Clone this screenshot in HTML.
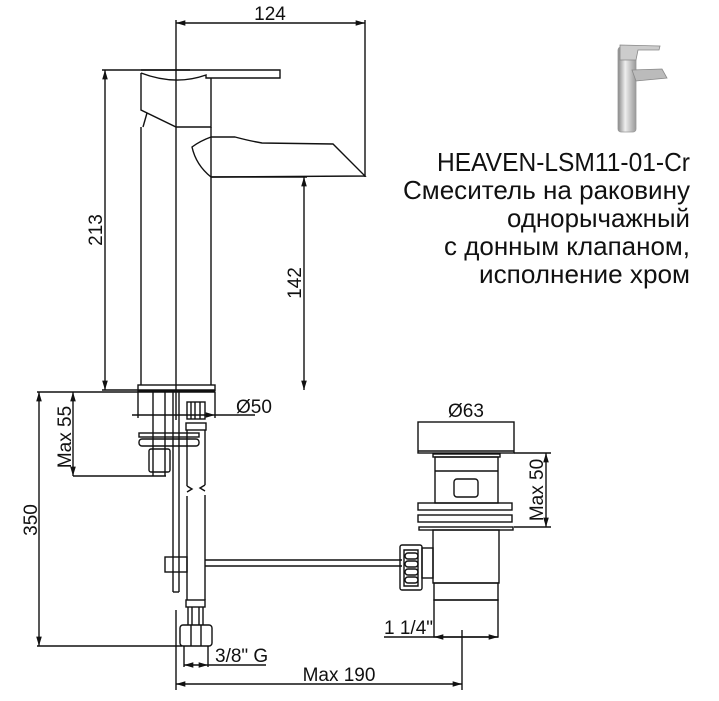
<!DOCTYPE html>
<html><head><meta charset="utf-8"><style>
html,body{margin:0;padding:0;background:#fff;}
svg{display:block;}
text{font-family:"Liberation Sans",sans-serif;fill:#111;}
</style></head><body>
<svg width="719" height="701" viewBox="0 0 719 701" xmlns="http://www.w3.org/2000/svg">
<defs>
<marker id="a" viewBox="0 0 10 6" refX="10" refY="3" markerWidth="7" markerHeight="4" orient="auto-start-reverse"><path d="M0,0 L10,3 L0,6 z" fill="#111"/></marker>
<linearGradient id="g" x1="0" x2="1"><stop offset="0" stop-color="#888"/><stop offset="0.4" stop-color="#eee"/><stop offset="1" stop-color="#999"/></linearGradient>
</defs>
<g stroke="#111" stroke-width="1.4" fill="none">
<line x1="176" y1="23" x2="365" y2="23" marker-start="url(#a)" marker-end="url(#a)"/>
<line x1="176" y1="20" x2="176" y2="420"/>
<line x1="365" y1="20" x2="365" y2="177"/>
<line x1="102" y1="70" x2="190" y2="70"/>
<line x1="105" y1="70" x2="105" y2="390" marker-start="url(#a)" marker-end="url(#a)"/>
<line x1="102" y1="390" x2="215" y2="390"/>
<path d="M141,70 L280,70 L280,78 L206,78 L206,75 Q175,86 141,73"/>
<path d="M141,73 L141,110 L176,127 L211,127 L211,78"/>
<path d="M147,113 L143,127"/>
<line x1="141" y1="127" x2="141" y2="385"/>
<line x1="211" y1="127" x2="211" y2="385"/>
<rect x="138" y="385" width="77" height="6"/>
<path d="M211,137 L235,137 Q250,141 262,143 L333,144 L365,176 L211,177 Q196,165 192,147 Q200,141 211,137"/>
<line x1="211" y1="177" x2="307" y2="177"/>
<line x1="304" y1="177" x2="304" y2="390" marker-start="url(#a)" marker-end="url(#a)"/>
<line x1="37" y1="392" x2="215" y2="392"/>
<line x1="39" y1="392" x2="39" y2="646" marker-start="url(#a)" marker-end="url(#a)"/>
<line x1="37" y1="646" x2="182" y2="646"/>
<line x1="73" y1="392" x2="73" y2="476" marker-start="url(#a)" marker-end="url(#a)"/>
<line x1="73" y1="476" x2="166" y2="476"/>
<line x1="138" y1="392" x2="138" y2="418"/>
<line x1="215" y1="392" x2="215" y2="418"/>
<line x1="153" y1="392" x2="153" y2="476"/>
<line x1="165" y1="392" x2="165" y2="476"/>
<line x1="132" y1="415" x2="215" y2="415" marker-end="url(#a)"/>
<line x1="215" y1="415" x2="255" y2="415"/>
<rect x="139" y="433" width="60" height="4"/>
<rect x="139" y="439" width="60" height="7" rx="3"/>
<rect x="149" y="449" width="21" height="23" rx="2"/>
<rect x="187" y="402" width="18" height="17"/>
<path d="M191,402 L191,419 M195,402 L195,419 M200,402 L200,419"/>
<rect x="186" y="423" width="20" height="7"/>
<line x1="173" y1="392" x2="173" y2="592"/>
<line x1="179" y1="392" x2="179" y2="592"/>
<line x1="173" y1="592" x2="179" y2="592"/>
<path d="M187,430 L187,486 M205,430 L205,485 M187,486 l5,3 l-5,3 M205,485 l-5,3 l5,3 M187,496 L187,600 M205,495 L205,600"/>
<rect x="165" y="557" width="22" height="15"/>
<rect x="186" y="600" width="19" height="7"/>
<path d="M188,607 L188,625 M192,607 L192,625 M199,607 L199,625 M203,607 L203,625"/>
<rect x="180" y="625" width="32" height="21" rx="3"/>
<path d="M191,625 L191,646 M201,625 L201,646"/>
<line x1="184" y1="646" x2="184" y2="667"/>
<line x1="208" y1="646" x2="208" y2="667"/>
<line x1="184" y1="665" x2="208" y2="665" marker-start="url(#a)" marker-end="url(#a)"/>
<line x1="208" y1="665" x2="266" y2="665"/>
<line x1="176" y1="610" x2="176" y2="690"/>
<line x1="462" y1="630" x2="462" y2="690"/>
<line x1="176" y1="684" x2="462" y2="684" marker-start="url(#a)" marker-end="url(#a)"/>
<line x1="205" y1="560" x2="402" y2="560"/>
<line x1="205" y1="566" x2="402" y2="566"/>
<rect x="418" y="422" width="96" height="31"/>
<line x1="418" y1="451" x2="514" y2="451"/>
<rect x="433" y="454" width="67" height="3"/>
<rect x="435" y="457" width="63" height="46"/>
<line x1="435" y1="471" x2="498" y2="471"/>
<rect x="454" y="479" width="24" height="18" rx="3"/>
<rect x="418" y="503" width="94" height="7"/>
<rect x="418" y="515" width="94" height="7"/>
<rect x="419" y="527" width="94" height="3"/>
<rect x="433" y="530" width="66" height="53"/>
<rect x="434" y="583" width="64" height="17"/>
<rect x="434" y="600" width="64" height="37"/>
<rect x="422" y="548" width="11" height="30"/>
<rect x="400" y="545" width="22" height="45" rx="2"/>
<path d="M404,550 h14 v36 h-14 z"/>
<rect x="405" y="553" width="13" height="6" rx="3"/>
<rect x="405" y="561" width="13" height="6" rx="3"/>
<rect x="405" y="569" width="13" height="6" rx="3"/>
<rect x="405" y="577" width="13" height="6" rx="3"/>
<line x1="514" y1="453" x2="551" y2="453"/>
<line x1="514" y1="527" x2="551" y2="527"/>
<line x1="546" y1="453" x2="546" y2="527" marker-start="url(#a)" marker-end="url(#a)"/>
<line x1="384" y1="637" x2="434" y2="637"/>
<line x1="434" y1="637" x2="498" y2="637" marker-start="url(#a)" marker-end="url(#a)"/>
</g>
<g>
<rect x="618" y="47" width="18" height="85" rx="3" fill="url(#g)" stroke="#999" stroke-width="0.8"/>
<path d="M620,45 L660,46 L659,50 L638,50 L636,60 L620,60 z" fill="#ccc" stroke="#888" stroke-width="0.8"/>
<path d="M632,70 L662,69 L667,78 L636,81 z" fill="#bbb" stroke="#888" stroke-width="0.8"/>
</g>
<g font-size="19">
<text x="270" y="20" text-anchor="middle">124</text>
<text transform="translate(102,230) rotate(-90)" text-anchor="middle">213</text>
<text transform="translate(301,283) rotate(-90)" text-anchor="middle">142</text>
<text transform="translate(71,437) rotate(-90)" text-anchor="middle">Max 55</text>
<text transform="translate(37,520) rotate(-90)" text-anchor="middle">350</text>
<text x="236" y="413">Ø50</text>
<text x="215" y="662">3/8" G</text>
<text x="339" y="681" text-anchor="middle">Max 190</text>
<text x="466" y="417" text-anchor="middle">Ø63</text>
<text transform="translate(543,490) rotate(-90)" text-anchor="middle">Max 50</text>
<text x="384" y="634">1 1/4"</text>
</g>
<g font-size="26" text-anchor="end">
<text x="690" y="171" textLength="253" lengthAdjust="spacingAndGlyphs">HEAVEN-LSM11-01-Cr</text>
<text x="690" y="199" textLength="287" lengthAdjust="spacingAndGlyphs">Смеситель на раковину</text>
<text x="690" y="227" textLength="183" lengthAdjust="spacingAndGlyphs">однорычажный</text>
<text x="690" y="255" textLength="246" lengthAdjust="spacingAndGlyphs">с донным клапаном,</text>
<text x="690" y="283" textLength="211" lengthAdjust="spacingAndGlyphs">исполнение хром</text>
</g>
</svg>
</body></html>
